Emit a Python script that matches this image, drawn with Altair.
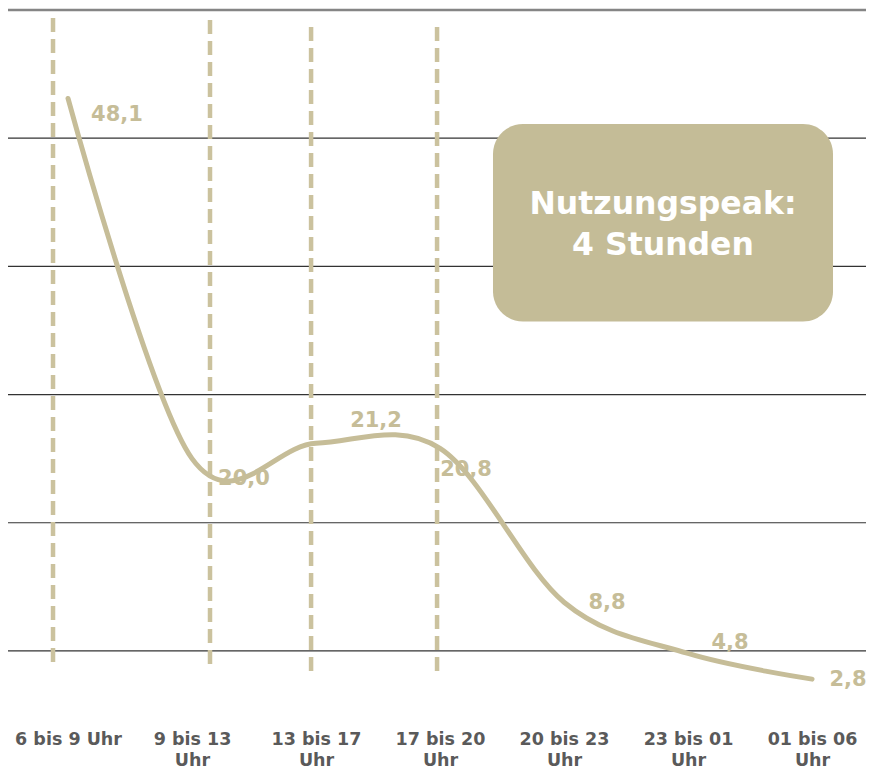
import altair as alt
import pandas as pd

# --- data -------------------------------------------------------------
categories = ["6 bis 9 Uhr", "9 bis 13|Uhr", "13 bis 17|Uhr", "17 bis 20|Uhr",
              "20 bis 23|Uhr", "23 bis 01|Uhr", "01 bis 06|Uhr"]
values = [48.1, 20.0, 21.2, 20.8, 8.8, 4.8, 2.8]
grid_values = [5, 15, 25, 35, 45]
top_line = [55]

# annotation positions (in data units)
dash_x = [-0.121, 1.145, 1.960, 2.976]
dash_top = [54.38, 54.22, 53.67, 53.67]
dash_bottom = [3.67, 3.51, 3.04, 3.04]
box_text = ["Nutzungspeak:", "4 Stunden"]

# label offsets (px) for each value label
label_offsets = [(49, 17), (52, 20), (60, -22), (26, 22), (43, 1), (42, -10), (36, 1)]

GOLD = "#c6bd98"
FONT = "DejaVu Sans"

df = pd.DataFrame({"idx": list(range(len(values))), "value": values})
grid_df = pd.DataFrame({"y": grid_values})
top_df = pd.DataFrame({"y": top_line})
dash_df = pd.DataFrame({"x": dash_x, "y": dash_top, "y2": dash_bottom})
box_df = pd.DataFrame({"x": [3.427], "x2": [6.169], "y": [30.7], "y2": [46.1]})
boxtxt_df = pd.DataFrame({"x": [4.798], "y": [39.8], "t": [box_text]})

label_array = "[" + ",".join("'" + c + "'" for c in categories) + "]"

xscale = alt.Scale(domain=[-0.484, 6.435], nice=False, zero=False)
yscale = alt.Scale(domain=[0, 55], nice=False, zero=True)

x_axis = alt.Axis(values=list(range(len(categories))), labelExpr=f"split({label_array}[datum.value], '|')",
                  title=None, domain=False, ticks=False, grid=False,
                  labelFont=FONT, labelFontWeight="bold", labelFontSize=17.5,
                  labelColor="#5a5a5a", labelPadding=15, labelLineHeight=21)

grid = alt.Chart(grid_df).mark_rule(color="#333333", strokeWidth=1.2).encode(
    y=alt.Y("y:Q", scale=yscale, axis=None))
top = alt.Chart(top_df).mark_rule(color="#858585", strokeWidth=2.5).encode(
    y=alt.Y("y:Q", scale=yscale, axis=None))

dashes = alt.Chart(dash_df).mark_rule(color="#cbc29e", strokeWidth=4.5, strokeDash=[14, 7]).encode(
    x=alt.X("x:Q", scale=xscale, axis=x_axis),
    y=alt.Y("y:Q", scale=yscale, axis=None),
    y2="y2:Q")

line = alt.Chart(df).mark_line(color=GOLD, strokeWidth=5, interpolate="cardinal", strokeCap="round").encode(
    x=alt.X("idx:Q", scale=xscale, axis=x_axis),
    y=alt.Y("value:Q", scale=yscale, axis=None))

label_layers = []
for i, (dx, dy) in enumerate(label_offsets):
    label_layers.append(
        alt.Chart(df).transform_filter(alt.datum.idx == i)
        .transform_calculate(lbl="replace(format(datum.value, '.1f'), '.', ',')")
        .mark_text(font=FONT, fontWeight="bold", fontSize=21, color=GOLD, dx=dx, dy=dy,
                   align="center", baseline="middle")
        .encode(x=alt.X("idx:Q", scale=xscale, axis=x_axis),
                y=alt.Y("value:Q", scale=yscale, axis=None),
                text="lbl:N")
    )

box = alt.Chart(box_df).mark_rect(color="#c4bc97", cornerRadius=30).encode(
    x=alt.X("x:Q", scale=xscale, axis=x_axis), x2="x2:Q",
    y=alt.Y("y:Q", scale=yscale, axis=None), y2="y2:Q")

box_label = alt.Chart(boxtxt_df).mark_text(font=FONT, fontWeight="bold", fontSize=31.5, color="white",
                                           align="center", baseline="middle", lineHeight=41).encode(
    x=alt.X("x:Q", scale=xscale, axis=x_axis),
    y=alt.Y("y:Q", scale=yscale, axis=None),
    text="t")

chart = alt.layer(grid, top, dashes, line, *label_layers, box, box_label).properties(
    width=858, height=705,
    background="white",
    autosize=alt.AutoSizeParams(type="none"),
    padding={"left": 0, "top": 2, "right": 0, "bottom": 53},
).configure_view(strokeWidth=0, stroke="transparent")

chart.save("out.html", embed_options={"renderer": "svg", "actions": False})
